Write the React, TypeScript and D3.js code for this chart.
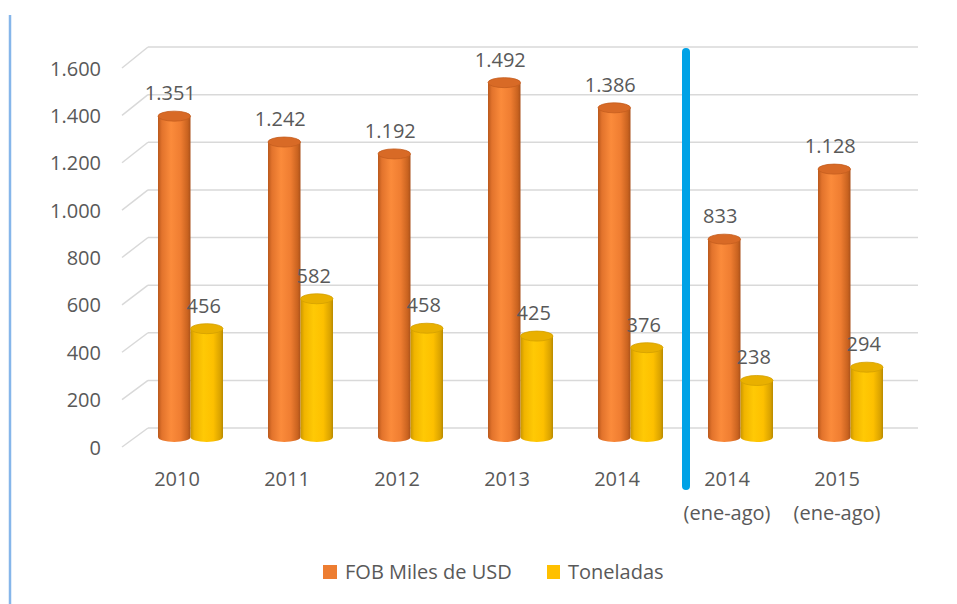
import React from "react";
import * as d3 from "d3";

const categories = ["2010", "2011", "2012", "2013", "2014", "2014|(ene-ago)", "2015|(ene-ago)"];
const fobValues = [1351, 1242, 1192, 1492, 1386, 833, 1128];
const tonValues = [456, 582, 458, 425, 376, 238, 294];
const fobLabels = ["1.351", "1.242", "1.192", "1.492", "1.386", "833", "1.128"];
const tonLabels = ["456", "582", "458", "425", "376", "238", "294"];
const yTicks = [0, 200, 400, 600, 800, 1000, 1200, 1400, 1600];
const yTickLabels = ["0", "200", "400", "600", "800", "1.000", "1.200", "1.400", "1.600"];
const seriesNames = ["FOB Miles de USD", "Toneladas"];

const W = 957;
const H = 604;
const FONT = "'Open Sans', 'Noto Sans', sans-serif";
const TXT = "#595959";
const FS = 20;

export default function App() {
  const backY = d3.scaleLinear().domain([0, 1600]).range([428, 47]);
  const frontY = d3.scaleLinear().domain([0, 1600]).range([447, 68]);
  const barY = d3.scaleLinear().domain([0, 1600]).range([437, 57]);
  const xBand = d3
    .scaleBand<string>()
    .domain(categories)
    .range([158 - 20, 158 - 20 + 110 * 7])
    .paddingInner(0)
    .paddingOuter(0);
  const barW = 32.5;
  const ry = 5;

  const cyl = (x0: number, v: number) => {
    const x1 = x0 + barW;
    const top = barY(v);
    const bot = barY(0);
    const rx = barW / 2;
    return {
      body: `M${x0},${top} L${x0},${bot} A${rx},${ry} 0 0 0 ${x1},${bot} L${x1},${top} Z`,
      top: { cx: x0 + rx, cy: top, rx, ry },
    };
  };

  return (
    <svg width={W} height={H} style={{ position: "absolute", left: 0, top: 0, background: "#fff" }}>
      <defs>
        <linearGradient id="gO" x1="0" x2="1" y1="0" y2="0">
          <stop offset="0" stopColor="#b9581c" />
          <stop offset="0.12" stopColor="#e2732c" />
          <stop offset="0.4" stopColor="#fb8b3b" />
          <stop offset="0.7" stopColor="#ef7d31" />
          <stop offset="0.92" stopColor="#c8621f" />
          <stop offset="1" stopColor="#a9501a" />
        </linearGradient>
        <linearGradient id="gY" x1="0" x2="1" y1="0" y2="0">
          <stop offset="0" stopColor="#c99600" />
          <stop offset="0.12" stopColor="#f0b400" />
          <stop offset="0.4" stopColor="#ffc905" />
          <stop offset="0.7" stopColor="#fdc000" />
          <stop offset="0.92" stopColor="#d9a200" />
          <stop offset="1" stopColor="#b88a00" />
        </linearGradient>
      </defs>

      {/* left blue border line */}
      <line x1={10} x2={10} y1={15} y2={H} stroke="#86b6ea" strokeWidth={2.5} />

      {/* gridlines */}
      {yTicks.map((t, i) => (
        <g key={t}>
          <line x1={148} x2={918} y1={backY(t)} y2={backY(t)} stroke="#d9d9d9" strokeWidth={1.5} />
          <line x1={122} x2={148} y1={frontY(t)} y2={backY(t)} stroke="#d9d9d9" strokeWidth={1.5} />
          <text
            x={101}
            y={frontY(t)}
            textAnchor="end"
            dominantBaseline="central"
            fontFamily={FONT}
            fontSize={FS}
            fill={TXT}
          >
            {yTickLabels[i]}
          </text>
        </g>
      ))}

      {/* bars */}
      {categories.map((c, i) => {
        const xo = (xBand(c) as number) + 20;
        const xy = xo + barW;
        const co = cyl(xo, fobValues[i]);
        const cy = cyl(xy, tonValues[i]);
        return (
          <g key={c}>
            <path d={co.body} fill="url(#gO)" />
            <ellipse {...co.top} fill="#d86a26" stroke="#c45d1e" strokeWidth={0.8} />
            <path d={cy.body} fill="url(#gY)" />
            <ellipse {...cy.top} fill="#e9b000" stroke="#d39f00" strokeWidth={0.8} />
            <text
              x={xo + barW / 2 - 4}
              y={co.top.cy - 16}
              textAnchor="middle"
              fontFamily={FONT}
              fontSize={FS}
              fill={TXT}
            >
              {fobLabels[i]}
            </text>
            <text
              x={xy + barW / 2 - 3}
              y={cy.top.cy - 16}
              textAnchor="middle"
              fontFamily={FONT}
              fontSize={FS}
              fill={TXT}
            >
              {tonLabels[i]}
            </text>
            {c.split("|").map((line, k) => (
              <text
                key={k}
                x={xo + 19}
                y={486 + k * 34}
                textAnchor="middle"
                fontFamily={FONT}
                fontSize={FS}
                fill={TXT}
              >
                {line}
              </text>
            ))}
          </g>
        );
      })}

      {/* blue separator */}
      <line x1={686} x2={686} y1={52} y2={486} stroke="#00a2e6" strokeWidth={8} strokeLinecap="round" />

      {/* legend */}
      <rect x={323} y={565} width={14} height={14} fill="#ed7d31" />
      <text x={345} y={579} fontFamily={FONT} fontSize={FS} fill={TXT}>
        {seriesNames[0]}
      </text>
      <rect x={547} y={565} width={13} height={14} fill="#ffc000" />
      <text x={568} y={579} fontFamily={FONT} fontSize={FS} fill={TXT}>
        {seriesNames[1]}
      </text>
    </svg>
  );
}
